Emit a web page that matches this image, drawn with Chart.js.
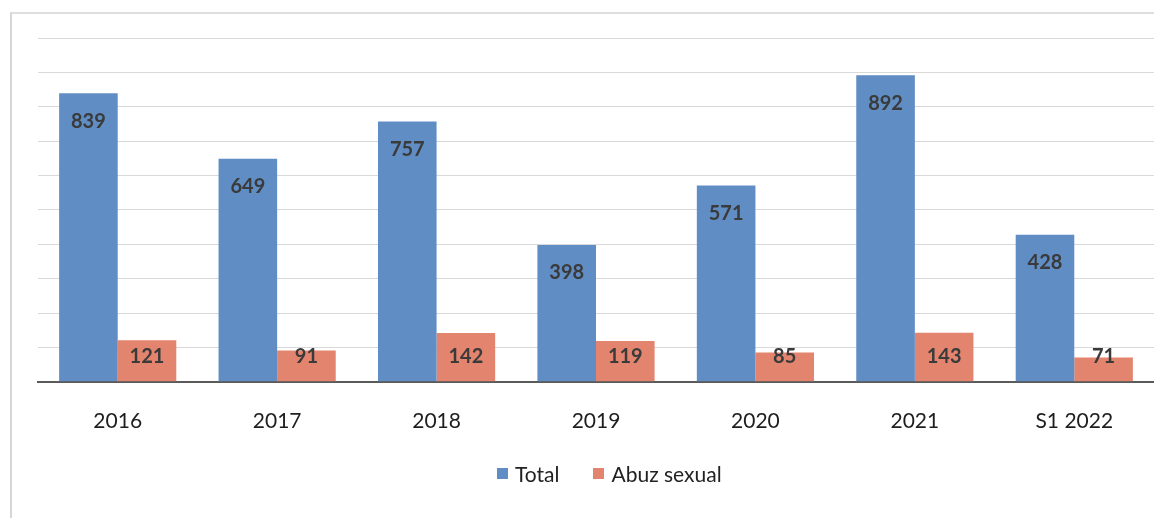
<!DOCTYPE html>
<html>
<head>
<meta charset="utf-8">
<script src="https://cdn.jsdelivr.net/npm/chart.js@4.4.0/dist/chart.umd.min.js"></script>
<style>
  html, body { margin: 0; padding: 0; background: #fff; }
  #wrap { position: relative; width: 1154px; height: 518px; font-family: Lato, "Open Sans", sans-serif; }
  #frame {
    position: absolute; left: 10px; top: 12px; right: -2px; bottom: -2px;
    border-left: 2px solid #d6d6d6; border-top: 2px solid #dedede;
  }
  canvas { position: absolute; left: 0; top: 0; }
  #legend {
    position: absolute; left: 497px; top: 461px; height: 24px;
    display: flex; align-items: center; font-size: 21px; color: #222;
  }
  #legend .item { display: flex; align-items: center; margin-right: 34px; }
  #legend .box { width: 11px; height: 11px; margin-right: 7px; }
</style>
</head>
<body>
<div id="wrap">
  <div id="frame"></div>
  <canvas id="chart" width="1154" height="518"></canvas>
  <div id="legend"></div>
</div>
<script>
const years = ["2016", "2017", "2018", "2019", "2020", "2021", "S1 2022"];
const totalCases = [839, 649, 757, 398, 571, 892, 428];
const sexualAbuse = [121, 91, 142, 119, 85, 143, 71];

const FONT = "Lato, 'Open Sans', sans-serif";

// etichete in interiorul barelor
const valueLabels = {
  id: "valueLabels",
  afterDatasetsDraw(chart) {
    const ctx = chart.ctx;
    const yScale = chart.scales.y;
    ctx.save();
    ctx.font = "bold 20px " + FONT;
    ctx.fillStyle = "#3a3a3a";
    ctx.textAlign = "center";
    ctx.textBaseline = "middle";
    chart.data.datasets.forEach((ds, i) => {
      chart.getDatasetMeta(i).data.forEach((bar, j) => {
        const y = i === 0 ? bar.y + 28 : yScale.getPixelForValue(73);
        ctx.fillText(ds.data[j], bar.x, y);
      });
    });
    ctx.restore();
  },
};

const chart = new Chart(document.getElementById("chart").getContext("2d"), {
  type: "bar",
  data: {
    labels: years,
    datasets: [
      {
        label: "Total",
        data: totalCases,
        backgroundColor: "#5f8dc4",
        categoryPercentage: 0.735,
        barPercentage: 1,
      },
      {
        label: "Abuz sexual",
        data: sexualAbuse,
        backgroundColor: "#e3846e",
        categoryPercentage: 0.735,
        barPercentage: 1,
      },
    ],
  },
  options: {
    responsive: false,
    animation: false,
    layout: { padding: { left: 38, right: 0, top: 38, bottom: 65 } },
    plugins: {
      legend: { display: false },
      tooltip: { enabled: false },
    },
    scales: {
      x: {
        grid: { display: false },
        border: { color: "#5a5a5a", width: 2 },
        ticks: {
          font: { family: FONT, size: 21 },
          color: "#1e1e1e",
          padding: 19,
        },
      },
      y: {
        min: 0,
        max: 1000,
        ticks: { display: false, stepSize: 100 },
        grid: { color: "#d9d9d9", drawTicks: false, lineWidth: 1 },
        border: { display: false },
      },
    },
  },
  plugins: [valueLabels],
});

// legenda html din seturile de date
const legendEl = document.getElementById("legend");
chart.data.datasets.forEach((ds) => {
  const item = document.createElement("span");
  item.className = "item";
  item.innerHTML =
    '<span class="box" style="background:' + ds.backgroundColor + '"></span>' + ds.label;
  legendEl.appendChild(item);
});
</script>
</body>
</html>
